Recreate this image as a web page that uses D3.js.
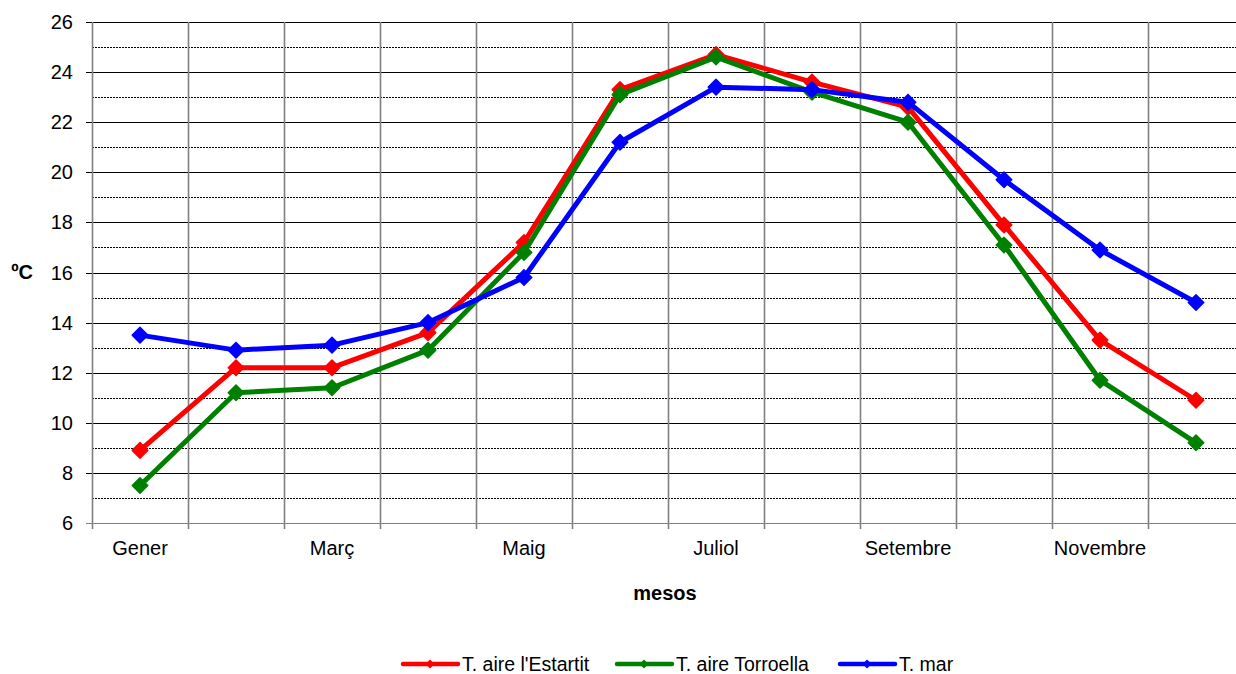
<!DOCTYPE html>
<html><head><meta charset="utf-8">
<script src="https://cdn.jsdelivr.net/npm/d3@7"></script>
<style>
html,body{margin:0;padding:0;background:#fff;overflow:hidden;}
text{font-family:"Liberation Sans",Arial,sans-serif;fill:#000;}
</style></head>
<body>
<svg id="chart" width="1236" height="674"></svg>
<script>
const months = ["Gener","Febrer","Març","Abril","Maig","Juny","Juliol","Agost","Setembre","Octubre","Novembre","Desembre"];
const shownLabels = ["Gener","Març","Maig","Juliol","Setembre","Novembre"];
const yTicks = [6,8,10,12,14,16,18,20,22,24,26];
const yMinor = [7,9,11,13,15,17,19,21,23,25];
const estartit = [8.9,12.2,12.2,13.6,17.2,23.3,24.7,23.6,22.6,17.9,13.3,10.9];
const torroella = [7.5,11.2,11.4,12.9,16.8,23.1,24.6,23.2,22.0,17.1,11.7,9.2];
const mar = [13.5,12.9,13.1,14.0,15.8,21.2,23.4,23.3,22.8,19.7,16.9,14.8];
const seriesNames = ["T. aire l'Estartit","T. aire Torroella","T. mar"];
const seriesColors = ["#ff0000","#008000","#0000ff"];
const seriesData = [estartit, torroella, mar];

const svg = d3.select("#chart");
const L = 92, R = 1244, T = 22, B = 523;
const x = d3.scaleBand().domain(months).range([L, R]).padding(0);
const y = d3.scaleLinear().domain([6,26]).range([B, T]);

// minor dotted gridlines
svg.append("g").selectAll("line").data(yMinor).join("line")
  .attr("x1", L).attr("x2", R)
  .attr("y1", d => Math.round(y(d))+0.5).attr("y2", d => Math.round(y(d))+0.5)
  .attr("stroke", "#000").attr("stroke-width", 1).attr("stroke-dasharray", "2,1");
// major gridlines with ticks
svg.append("g").selectAll("line").data(yTicks).join("line")
  .attr("x1", L-6).attr("x2", R)
  .attr("y1", d => Math.round(y(d))+0.5).attr("y2", d => Math.round(y(d))+0.5)
  .attr("stroke", d => d === 6 ? "#808080" : "#000").attr("stroke-width", 1);
// vertical gridlines at category boundaries
const bounds = months.map(m => x(m)).concat([R]);
svg.append("g").selectAll("line").data(bounds).join("line")
  .attr("x1", d => Math.round(d)+0.5).attr("x2", d => Math.round(d)+0.5)
  .attr("y1", T).attr("y2", B+6)
  .attr("stroke", "#808080").attr("stroke-width", 1.6);

// y labels
svg.append("g").selectAll("text").data(yTicks).join("text")
  .attr("x", 73).attr("y", d => y(d)+7)
  .attr("text-anchor", "end").attr("font-size", 20).text(d => d);
// x labels
svg.append("g").selectAll("text").data(shownLabels).join("text")
  .attr("x", d => x(d) + x.bandwidth()/2).attr("y", 555)
  .attr("text-anchor", "middle").attr("font-size", 20).text(d => d);

// axis titles
svg.append("text").attr("x", 22).attr("y", 279).attr("text-anchor","middle")
  .attr("font-size", 20).attr("font-weight","bold").text("ºC");
svg.append("text").attr("x", 665).attr("y", 600).attr("text-anchor","middle")
  .attr("font-size", 20).attr("font-weight","bold").text("mesos");

// series
const line = d3.line().x((d,i) => x(months[i]) + x.bandwidth()/2).y(d => y(d));
const marker = d3.symbol().type(d3.symbolSquare).size(120);
seriesData.forEach((data, si) => {
  const g = svg.append("g");
  g.append("path").datum(data).attr("d", line)
    .attr("fill","none").attr("stroke", seriesColors[si]).attr("stroke-width", 5)
    .attr("stroke-linejoin","round");
  g.selectAll("path.m").data(data).join("path").attr("class","m")
    .attr("d", marker)
    .attr("transform", (d,i) => `translate(${x(months[i]) + x.bandwidth()/2},${y(d)}) rotate(45)`)
    .attr("fill", seriesColors[si]).attr("stroke", seriesColors[si])
    .attr("stroke-width", 1.5).attr("stroke-linejoin","round");
});

// legend
const legX = [403, 617, 840];
const legY = 664;
const lg = svg.append("g");
seriesNames.forEach((n, i) => {
  lg.append("line").attr("x1", legX[i]).attr("x2", legX[i]+55)
    .attr("y1", legY).attr("y2", legY).attr("stroke", seriesColors[i]).attr("stroke-width", 4.5)
    .attr("stroke-linecap","round");
  lg.append("path").attr("d", d3.symbol().type(d3.symbolSquare).size(40)())
    .attr("transform", `translate(${legX[i]+27},${legY}) rotate(45)`).attr("fill", seriesColors[i]);
  lg.append("text").attr("x", legX[i]+59).attr("y", legY+7).attr("font-size", 19.5).text(n);
});
</script>
</body></html>
